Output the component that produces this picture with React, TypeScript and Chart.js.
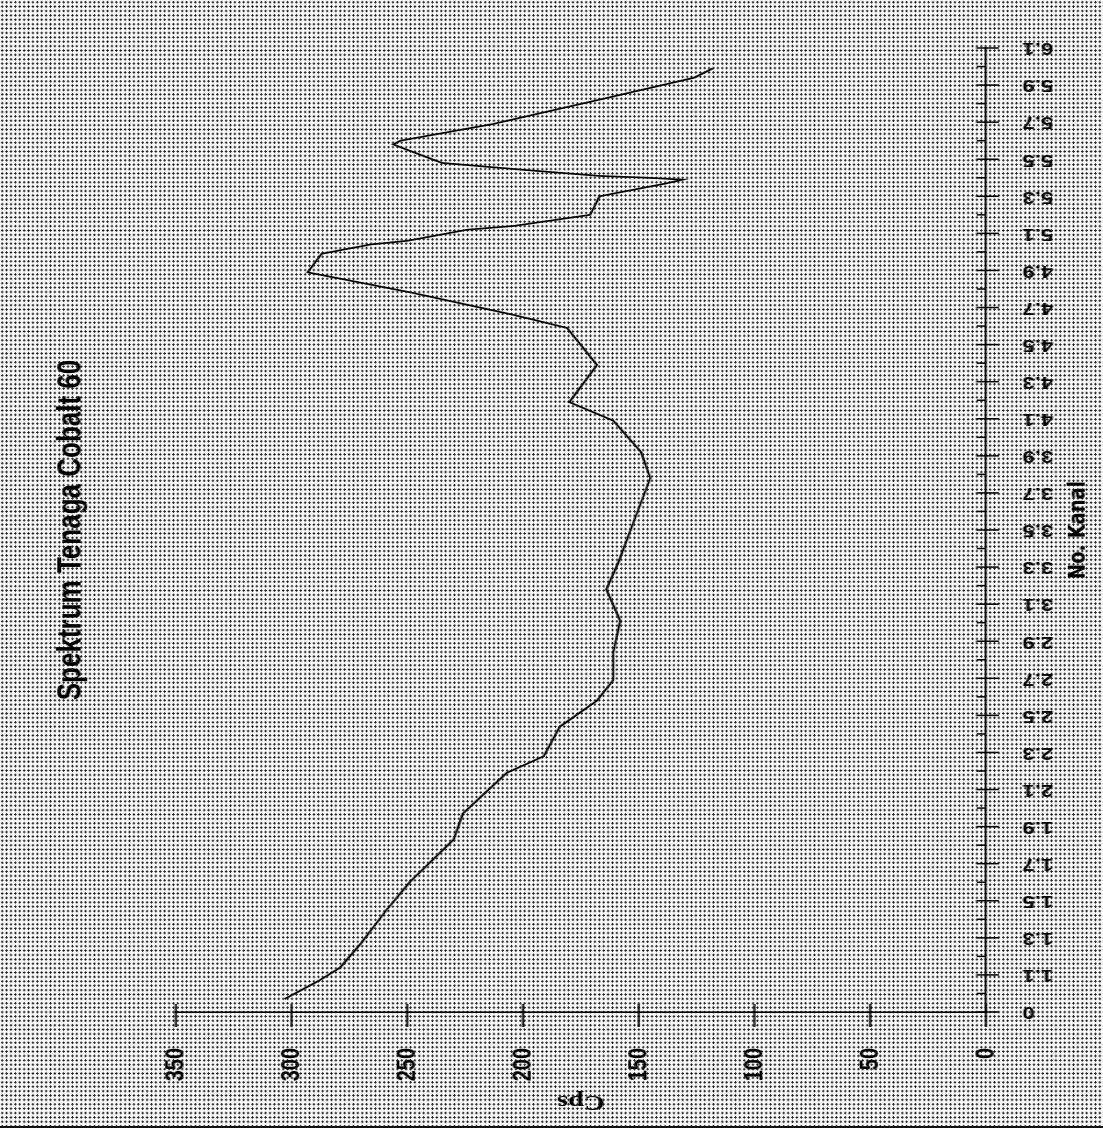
import React, { useEffect, useRef } from "react";
import { Chart, registerables } from "chart.js";

Chart.register(...registerables);

// Channel number (No. Kanal) of each point on the trace
const kanal = [
  0.97, 1.07, 1.14, 1.27, 1.45, 1.6, 1.83, 1.97, 2.19, 2.28, 2.44, 2.58, 2.69, 2.84,
  3.01, 3.18, 3.32, 3.55, 3.78, 3.92, 4.09, 4.19, 4.39, 4.59, 4.66, 4.78, 4.89, 4.99,
  5.04, 5.06, 5.12, 5.14, 5.2, 5.3, 5.37, 5.39, 5.4, 5.41, 5.44, 5.48, 5.56, 5.58,
  5.6, 5.69, 5.83, 5.94, 5.99,
];

// Counts per second at each point
const cps = [
  303, 288, 279, 270, 259, 249, 230, 226, 207, 191, 184, 168, 161, 161,
  158, 164, 159, 152, 145, 149, 161, 180, 168, 181, 204, 248, 293, 287,
  266, 250, 224, 204, 171, 167, 138, 131, 146, 167, 197, 235, 252, 256,
  253, 213, 164, 126, 118,
];

// Labels under every second tick of the channel axis
const kanalTickLabels = [
  "0", "1.1", "1.3", "1.5", "1.7", "1.9", "2.1", "2.3", "2.5", "2.7", "2.9", "3.1", "3.3",
  "3.5", "3.7", "3.9", "4.1", "4.3", "4.5", "4.7", "4.9", "5.1", "5.3", "5.5", "5.7", "5.9", "6.1",
];

const kanalMin = 0.9;
const kanalMax = 6.1;
const cpsMin = 0;
const cpsMax = 350;

const CW = 1128;
const CH = 848;
const SY = 1103 / CH;

const crossTicks = {
  id: "crossTicks",
  afterDraw(chart: any) {
    const ctx = chart.ctx;
    const xs = chart.scales.x;
    const ys = chart.scales.y;
    ctx.save();
    ctx.strokeStyle = "#000";
    ctx.lineWidth = 1.5;
    xs.ticks.forEach((t: any, i: number) => {
      const px = xs.getPixelForValue(t.value);
      const y0 = xs.top;
      ctx.beginPath();
      if (i % 2 === 0) {
        ctx.moveTo(px, y0 - 7.5);
        ctx.lineTo(px, y0 + 10);
      } else {
        ctx.moveTo(px, y0 - 7);
        ctx.lineTo(px, y0);
      }
      ctx.stroke();
    });
    ys.ticks.forEach((t: any) => {
      const py = ys.getPixelForValue(t.value);
      const x0 = ys.right;
      ctx.beginPath();
      ctx.moveTo(x0 - 15, py);
      ctx.lineTo(x0 + 8, py);
      ctx.stroke();
    });
    ctx.restore();
  },
};

export default function App() {
  const ref = useRef<HTMLCanvasElement | null>(null);

  useEffect(() => {
    if (!ref.current) return;
    const points = kanal.map((k, i) => ({ x: k, y: cps[i] }));
    const chart = new Chart(ref.current, {
      type: "line",
      data: {
        datasets: [
          {
            data: points,
            borderColor: "#000",
            borderWidth: 1.7,
            pointRadius: 0,
            tension: 0,
            fill: false,
          },
        ],
      },
      options: {
        animation: false,
        responsive: false,
        devicePixelRatio: 1,
        layout: { padding: { left: 0, right: 48, top: 0, bottom: 0 } },
        plugins: {
          legend: { display: false },
          tooltip: { enabled: false },
          title: {
            display: true,
            fullSize: false,
            text: "Spektrum Tenaga Cobalt 60",
            color: "#000",
            font: { family: "'Liberation Sans', Arial, sans-serif", size: 26, weight: "bold" },
            padding: { top: 39, bottom: 65 },
          },
        },
        scales: {
          x: {
            type: "linear",
            min: kanalMin,
            max: kanalMax,
            afterFit: (s: any) => {
              s.height = 90;
            },
            ticks: {
              stepSize: 0.1,
              autoSkip: false,
              maxTicksLimit: 100,
              minRotation: 90,
              maxRotation: 90,
              padding: 18,
              color: "#000",
              font: { family: "'Liberation Sans', Arial, sans-serif", size: 17, weight: "bold" },
              callback: (_v: any, i: number) => (i % 2 === 0 ? kanalTickLabels[i / 2] : ""),
            },
            grid: { display: true, drawOnChartArea: false, drawTicks: true, tickLength: 10, color: "rgba(0,0,0,0)" },
            border: { display: true, color: "#000", width: 1.6 },
            title: {
              display: true,
              text: "No. Kanal",
              color: "#000",
              font: { family: "'DejaVu Sans', sans-serif", size: 18, weight: "bold" },
              padding: { top: 0, bottom: 8 },
            },
          },
          y: {
            type: "linear",
            min: cpsMin,
            max: cpsMax,
            afterFit: (s: any) => {
              s.width = 116;
            },
            ticks: {
              stepSize: 50,
              padding: 21,
              color: "#000",
              font: { family: "'Liberation Sans', Arial, sans-serif", size: 20, weight: "bold" },
            },
            grid: { display: true, drawOnChartArea: false, drawTicks: true, tickLength: 15, color: "rgba(0,0,0,0)" },
            border: { display: true, color: "#000", width: 1.6 },
            title: {
              display: true,
              text: "Cps",
              color: "#000",
              font: { family: "'Liberation Serif', 'Times New Roman', serif", size: 22, weight: "bold" },
              padding: { top: 13, bottom: 0 },
            },
          },
        },
      },
      plugins: [crossTicks],
    } as any);
    return () => chart.destroy();
  }, []);

  return (
    <div
      style={{
        position: "absolute",
        left: 0,
        top: 0,
        width: 1103,
        height: 1128,
        overflow: "hidden",
        backgroundColor: "#f8f8f8",
        backgroundImage: "radial-gradient(circle, #1a1a1a 0.85px, rgba(0,0,0,0) 1.3px)",
        backgroundSize: "4.4px 4.4px",
      }}
    >
      <canvas
        ref={ref}
        width={CW}
        height={CH}
        style={{
          position: "absolute",
          left: 0,
          top: 0,
          width: CW,
          height: CH,
          transformOrigin: "0 0",
          transform: `translate(0px, ${CW}px) rotate(-90deg) scale(1, ${SY})`,
        }}
      />
      <div
        style={{
          position: "absolute",
          left: 0,
          bottom: 0,
          width: 1103,
          height: 2,
          background: "#111",
        }}
      />
    </div>
  );
}
